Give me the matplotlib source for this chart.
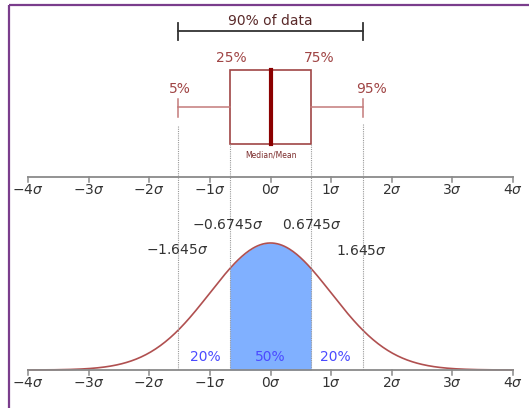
import numpy as np
import matplotlib.pyplot as plt

plt.rcParams['mathtext.fontset'] = 'dejavusans'

# positions (in sigma) of the quantiles as drawn
q_pos = [-1.52, -0.6745, 0.0, 0.6745, 1.52]
q_labels = ['5%', '25%', 'Median/Mean', '75%', '95%']
sigma_ticks = [-4, -3, -2, -1, 0, 1, 2, 3, 4]
cut_labels = ['$-1.645\\sigma$', '$-0.6745\\sigma$', '$0.6745\\sigma$', '$1.645\\sigma$']
share_labels = ['20%', '50%', '20%']

red = '#a04545'
dark = '#333333'
grey = '#8a8a8a'
blue = '#4b4bff'
fs = 10

W, H = 529, 408
fig = plt.figure(figsize=(W / 100, H / 100), dpi=100)
px = 60.625
x0 = -4 - 28 / px
x1 = 4 + (W - 513) / px

# normal curve (drawn underneath)
ax2 = fig.add_axes([0, (H - 370) / H, 1, (370 - 243) / H])
ax2.set_xlim(x0, x1)
xs = np.linspace(-4, 4, 400)
pdf = np.exp(-xs ** 2 / 2) / np.sqrt(2 * np.pi)
ax2.set_ylim(0, pdf.max())
ax2.axis('off')
mask = (xs >= q_pos[1]) & (xs <= q_pos[3])
ax2.fill_between(xs[mask], 0, pdf[mask], color='#80b0ff', lw=0)
ax2.plot(xs, pdf, color='#b05050', lw=1.2, clip_on=False)

ax = fig.add_axes([0, 0, 1, 1])
ax.patch.set_alpha(0)
ax.set_xlim(x0, x1)
ax.set_ylim(H, 0)
ax.axis('off')

# frame
ax.plot([x0 + 9 / px, x0 + 9 / px], [5, H], color='#7a3d8c', lw=1.6, solid_capstyle='butt')
ax.plot([x0 + 9 / px, x1], [5, 5], color='#7a3d8c', lw=1.6, solid_capstyle='butt')

# 90% bracket
ax.plot([q_pos[0], q_pos[4]], [31, 31], color=dark, lw=1.3)
for q in (q_pos[0], q_pos[4]):
    ax.plot([q, q], [23, 40], color=dark, lw=1.3)
ax.text(0, 21, '90% of data', ha='center', va='center', fontsize=fs, color='#5a2a2a')

# box plot
ax.plot([q_pos[0], q_pos[1]], [107, 107], color='#c47a7a', lw=1.1)
ax.plot([q_pos[3], q_pos[4]], [107, 107], color='#c47a7a', lw=1.1)
for q in (q_pos[0], q_pos[4]):
    ax.plot([q, q], [99, 117], color='#c47a7a', lw=1.1)
ax.add_patch(plt.Rectangle((q_pos[1], 70), q_pos[3] - q_pos[1], 74,
                           fill=False, edgecolor=red, lw=1.2))
ax.plot([q_pos[2], q_pos[2]], [70, 144], color='#8b0000', lw=3)
ax.text(q_pos[0] + 0.02, 89, q_labels[0], ha='center', va='center', fontsize=fs, color=red)
ax.text(q_pos[1] + 0.03, 58, q_labels[1], ha='center', va='center', fontsize=fs, color=red)
ax.text(q_pos[2], 155, q_labels[2], ha='center', va='center', fontsize=5.5, color='#7a2a2a')
ax.text(q_pos[3] + 0.13, 58, q_labels[3], ha='center', va='center', fontsize=fs, color=red)
ax.text(q_pos[4] + 0.15, 89, q_labels[4], ha='center', va='center', fontsize=fs, color=red)

# dotted guide lines
for q, top in zip(q_pos, [126, 144, None, 144, 124]):
    if top is None:
        continue
    ax.plot([q, q], [top, 370], color='#9a9a9a', lw=0.8, ls=(0, (1, 1)))

# sigma axes
for yb, yl in ((177, 190), (370, 383)):
    ax.plot([-4, 4], [yb, yb], color=grey, lw=1.3)
    for t in sigma_ticks:
        ax.plot([t, t], [yb, yb + 5], color=grey, lw=1.1)
        ax.text(t, yl, '$%d\\sigma$' % t, ha='center', va='center', fontsize=fs, color=dark)

ax.text(-1.53, 250, cut_labels[0], ha='center', va='center', fontsize=fs, color=dark)
ax.text(-0.7, 225, cut_labels[1], ha='center', va='center', fontsize=fs, color=dark)
ax.text(0.68, 225, cut_labels[2], ha='center', va='center', fontsize=fs, color=dark)
ax.text(1.5, 251, cut_labels[3], ha='center', va='center', fontsize=fs, color=dark)

for xp, lab in zip([-1.08, 0.0, 1.07], share_labels):
    ax.text(xp, 357, lab, ha='center', va='center', fontsize=fs, color=blue)

fig.savefig('out.png', dpi=100)
